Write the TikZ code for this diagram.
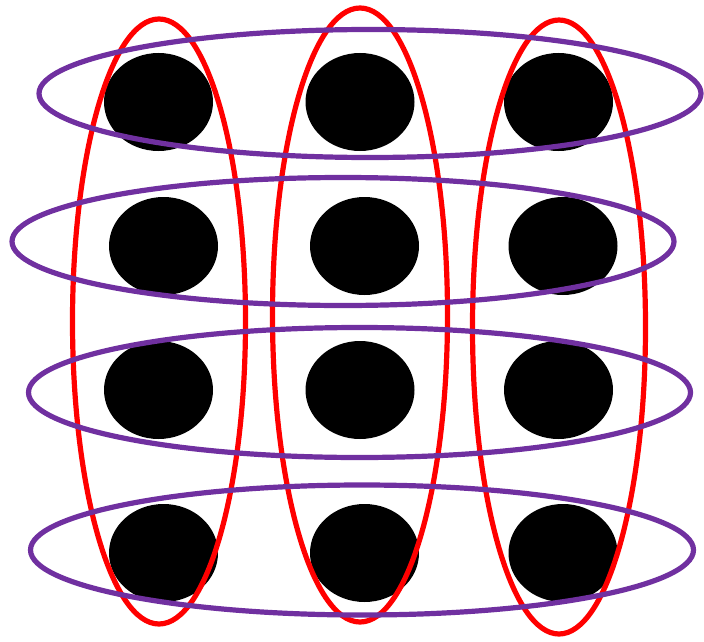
\documentclass[tikz,border=0pt]{standalone}
\definecolor{grpred}{HTML}{FF0000}
\definecolor{grppurple}{HTML}{7030A0}
\begin{document}
\begin{tikzpicture}[x=1pt,y=-1pt,
  dot/.style={fill=black},
  colring/.style={draw=grpred,line width=5.2pt},
  rowring/.style={draw=grppurple,line width=5.2pt}]
\useasboundingbox (0,0) rectangle (704,642);
% dots
\foreach \cx/\cy in {158.5/102,360/102,558.5/102,
                     163.5/246,364.5/246,563/246,
                     158.5/390,360/390,558.5/390,
                     163.5/553,364.5/553,563/553}
  \fill[dot] (\cx,\cy) ellipse [x radius=54.5, y radius=49];
% columns
\draw[colring] (159,321.5) ellipse [x radius=86.5, y radius=302.5];
\draw[colring] (360,315) ellipse [x radius=87.5, y radius=307];
\draw[colring] (559,327) ellipse [x radius=86.5, y radius=307];
% rows
\draw[rowring] (370,93.5) ellipse [x radius=331, y radius=64];
\draw[rowring] (343,241.5) ellipse [x radius=331, y radius=64];
\draw[rowring] (359.5,392.5) ellipse [x radius=331, y radius=65];
\draw[rowring] (362,550) ellipse [x radius=331.5, y radius=65];
\end{tikzpicture}
\end{document}
